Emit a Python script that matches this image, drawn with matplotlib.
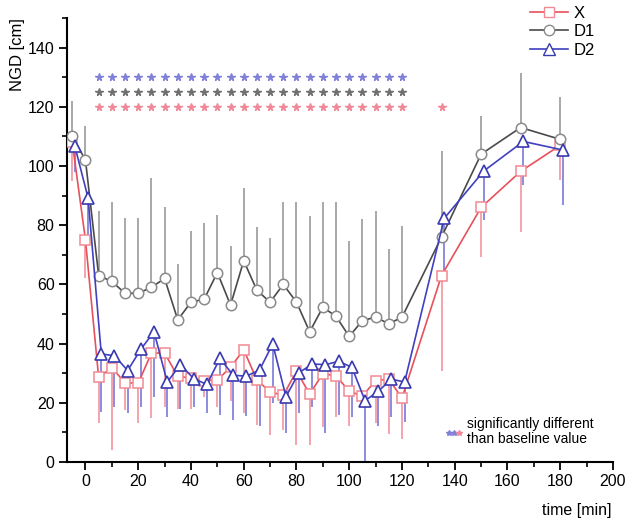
import matplotlib.pyplot as plt
from matplotlib.ticker import MultipleLocator
from matplotlib.lines import Line2D

# time points [min]
t = [-5, 0, 5, 10, 15, 20, 25, 30, 35, 40, 45, 50, 55, 60, 65, 70, 75, 80,
     85, 90, 95, 100, 105, 110, 115, 120, 135, 150, 165, 180]

# X (squares) mean and lower end of error bar
x_mean = [108, 75, 28.6, 31.8, 26.8, 26.6, 36.8, 36.8, 28.9, 28.4, 27.5, 27.7,
          32, 37.9, 27.7, 23.7, 22.5, 30.7, 23, 29.8, 29.1, 23.9, 22.3, 27.5,
          28, 21.6, 63, 86, 98.2, 107]
x_low = [95, 62, 13.3, 4.1, 17.6, 13.1, 14.8, 18.7, 17.8, 17.8, 22, 18.7,
         20.7, 16.7, 12.5, 9.1, 10.8, 5.7, 5.7, 11.7, 15.3, 12.2, 18.7, 13.1,
         9.5, 7.7, 30.9, 69.4, 77.6, 95.4]

# D1 (circles) mean and upper end of error bar
d1_mean = [110, 102, 63, 61, 57, 57, 59, 62, 48, 54, 55, 64, 53, 68, 58, 54,
           60, 54, 44, 52.3, 49.2, 42.4, 47.8, 48.9, 46.7, 48.9, 76, 104, 113, 109]
d1_high = [122, 113.6, 84.7, 88, 82.6, 82.6, 95.9, 86.1, 67, 77.9, 80.9, 83.5,
           73, 92.6, 79.3, 75.6, 88, 88, 83.2, 88, 87.7, 74.5, 82, 84.7, 71.9,
           79.8, 105, 116.8, 131.3, 123.3]

# D2 (triangles) mean and lower end of error bar
d2_mean = [106.6, 89.2, 36.5, 35.9, 30.9, 38.1, 44, 27, 32.9, 28.2, 26.2, 35,
           29.3, 29, 31.1, 39.9, 22.1, 30.2, 33.1, 32.9, 34, 32, 20.7, 23.9, 28,
           27, 82.3, 98.3, 108.3, 105.4]
d2_low = [98, 75, 16.9, 18.7, 16.5, 18.7, 22.1, 15.3, 17.8, 18.7, 16.5, 15.8,
          14.2, 15.6, 12, 19.8, 9.9, 16.5, 18.7, 9.7, 15.9, 15.3, 0, 12.2, 15.3,
          13.6, 63.8, 81.8, 93.7, 86.9]

# significance stars (times) and row heights
sig_t = [5, 10, 15, 20, 25, 30, 35, 40, 45, 50, 55, 60, 65, 70, 75, 80, 85,
         90, 95, 100, 105, 110, 115, 120]
sig_t_x = sig_t + [135]
sig_rows = {"D2": 130, "D1": 125, "X": 120}

RED, RED_L = "#e8505b", "#f4a3ab"
GRAY, GRAY_L = "#4a4a4a", "#a8a8a8"
BLUE, BLUE_L = "#4040c0", "#8c8ce0"

plt.rcParams["font.family"] = ["Liberation Sans", "DejaVu Sans"]

fig = plt.figure(figsize=(6.28, 5.2), dpi=100)
ax = fig.add_axes([67 / 628, 1 - 462 / 520, 546 / 628, 444 / 520])

t2 = [v + 1 for v in t]  # D2 drawn slightly shifted

# error bars (one sided)
ax.errorbar(t, x_mean, yerr=[[m - l for m, l in zip(x_mean, x_low)], [0] * len(t)],
            fmt="none", ecolor=RED_L, elinewidth=1.4, capsize=0, zorder=1)
ax.errorbar(t2, d2_mean, yerr=[[m - l for m, l in zip(d2_mean, d2_low)], [0] * len(t)],
            fmt="none", ecolor=BLUE_L, elinewidth=1.4, capsize=0, zorder=1)
ax.errorbar(t, d1_mean, yerr=[[0] * len(t), [h - m for h, m in zip(d1_high, d1_mean)]],
            fmt="none", ecolor=GRAY_L, elinewidth=1.4, capsize=0, zorder=1)

ax.plot(t, x_mean, color=RED, lw=1.2, marker="s", ms=6.5, mfc="white",
        mec="#f08a92", mew=1.1, zorder=3, label="X")
ax.plot(t, d1_mean, color=GRAY, lw=1.2, marker="o", ms=7.5, mfc="white",
        mec="#8a8a8a", mew=1.1, zorder=3, label="D1")
ax.plot(t2, d2_mean, color=BLUE, lw=1.2, marker="^", ms=8.5, mfc="white",
        mec="#3a3ab0", mew=1.2, zorder=4, label="D2")

# significance stars
ax.plot(sig_t, [sig_rows["D2"]] * len(sig_t), ls="none", marker="*", ms=5.5,
        color="#8080d8")
ax.plot(sig_t, [sig_rows["D1"]] * len(sig_t), ls="none", marker="*", ms=5.5,
        color="#707070")
ax.plot(sig_t_x, [sig_rows["X"]] * len(sig_t_x), ls="none", marker="*", ms=5.5,
        color="#f08898")

# note
ax.plot([138, 139.8], [9.8, 9.8], ls="none", marker="*", ms=4, color="#8080d8")
ax.plot([141.6], [9.8], ls="none", marker="*", ms=4, color="#f08898")
ax.text(144.5, 10.3, "significantly different\nthan baseline value",
        fontsize=10, va="center", ha="left", linespacing=1.1)

ax.set_xlim(-7, 200)
ax.set_ylim(0, 150)
ax.xaxis.set_major_locator(MultipleLocator(20))
ax.xaxis.set_minor_locator(MultipleLocator(10))
ax.yaxis.set_major_locator(MultipleLocator(20))
ax.yaxis.set_minor_locator(MultipleLocator(10))
ax.set_yticks(range(0, 141, 20))
ax.tick_params(which="major", direction="out", length=6, width=1.3,
               labelsize=11.5, pad=3)
ax.tick_params(which="minor", direction="out", length=3.5, width=1.2)
for s in ["top", "right"]:
    ax.spines[s].set_visible(False)
for s in ["left", "bottom"]:
    ax.spines[s].set_linewidth(1.5)

fig.text(18 / 628, 1 - 55 / 520, "NGD [cm]", rotation=90, fontsize=12,
         ha="center", va="center")
fig.text(612 / 628, 1 - 510 / 520, "time [min]", fontsize=11.5, ha="right",
         va="center")

handles = [
    Line2D([], [], color=RED, lw=1.2, marker="s", ms=6.5, mfc="white", mec="#f08a92"),
    Line2D([], [], color=GRAY, lw=1.2, marker="o", ms=7.5, mfc="white", mec="#8a8a8a"),
    Line2D([], [], color=BLUE, lw=1.2, marker="^", ms=8.5, mfc="white", mec="#3a3ab0"),
]
fig.legend(handles, ["X", "D1", "D2"], loc="upper left",
           bbox_to_anchor=(530 / 628, 1 - 6 / 520), frameon=False,
           fontsize=12, handlelength=2.3, handletextpad=0.3, labelspacing=0.2,
           borderaxespad=0, borderpad=0)

fig.savefig("out.png", dpi=100)
